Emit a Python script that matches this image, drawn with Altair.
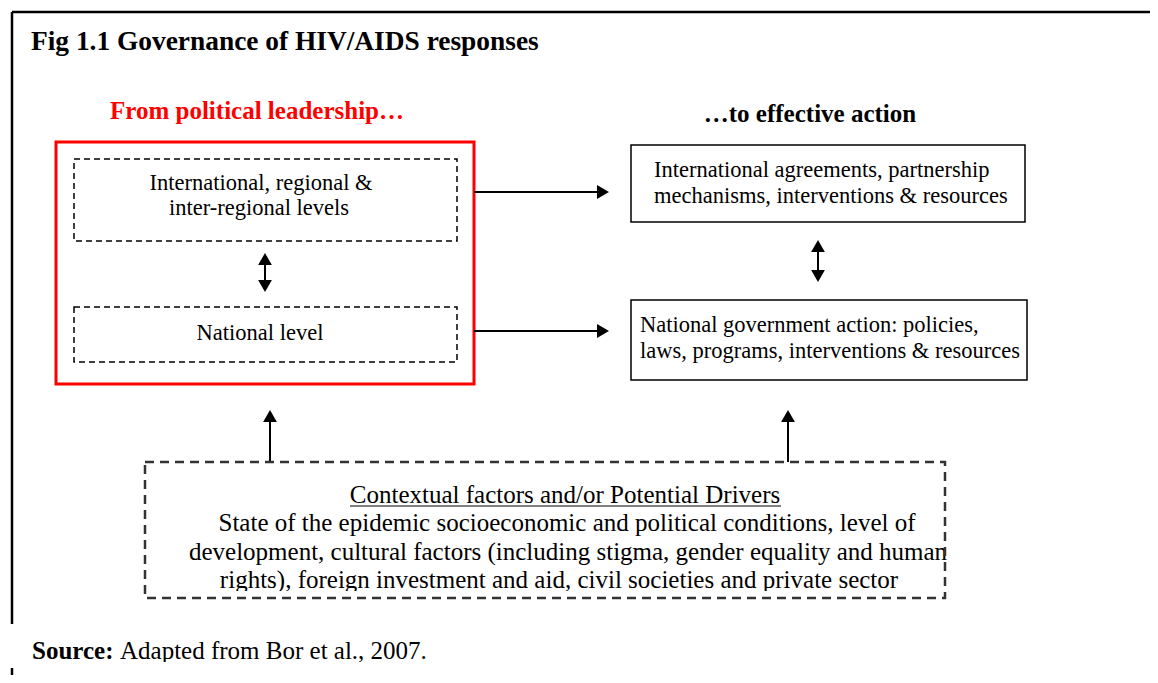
import altair as alt
import pandas as pd

W, H = 1142, 667
SERIF = "Liberation Serif"

# ---------------- data (image pixel coordinates) ----------------
# frame lines: x, x2, y, y2
frame_lines = [
    [12, 1158, 12, 12],
    [12, 12, 12, 624],
    [12, 12, 668, 683],
]

# boxes: x, x2, y, y2
red_box = [[56, 474, 142, 384]]
thin_dashed_boxes = [[74, 457, 159, 241], [74, 457, 307, 362]]
solid_boxes = [[631, 1025, 145, 222], [631, 1027, 300, 380]]
thick_dashed_boxes = [[145, 945, 462, 598]]
# white bands where the original figure's text is cut off
cut_bands = [[150, 940, 591, 596], [28, 600, 662, 672]]

# arrow shafts: x, x2, y, y2
shafts = [
    [474, 598, 192, 192],
    [474, 598, 331, 331],
    [265, 265, 262, 283],
    [818, 818, 249, 273],
    [270, 270, 420, 462],
    [788, 788, 420, 462],
]
# arrow heads: x, y, shape
heads_x = [603, 603, 265, 265, 818, 818, 270, 788]
heads_y = [192, 331, 259, 286, 246, 276, 416, 416]
heads_shape = ["triangle-right", "triangle-right", "triangle-up", "triangle-down",
               "triangle-up", "triangle-down", "triangle-up", "triangle-up"]

# texts
title_text = ["Fig 1.1 Governance of HIV/AIDS responses"]
title_x, title_y = [31], [50]

red_head = ["From political leadership\u2026"]
red_head_x, red_head_y = [257], [119]

black_head = ["\u2026to effective action"]
black_head_x, black_head_y = [810], [122]

center_lines = ["International, regional &", "inter-regional levels", "National level"]
center_x = [261, 259, 260]
center_y = [190, 215, 340]

left_lines = ["International agreements, partnership",
              "mechanisms, interventions & resources",
              "National government action: policies,",
              "laws, programs, interventions & resources"]
left_x = [654, 654, 640, 640]
left_y = [177, 203, 332, 358]

bottom_lines = ["Contextual factors and/or Potential Drivers",
                "State of the epidemic socioeconomic and political conditions, level of",
                "development, cultural factors (including stigma, gender equality and human",
                "rights), foreign investment and aid, civil societies and private sector"]
bottom_x = [565, 567, 568, 559]
bottom_y = [503, 531, 560, 588]
underline = [[350, 781, 506, 506]]

source_bold = ["Source:"]
source_rest = ["Adapted from Bor et al., 2007."]
source_x, source_rest_x, source_y = [32], [120], [659]

# ---------------- scales ----------------
xs = alt.Scale(domain=[8, 8 + W], nice=False, zero=False)
ys = alt.Scale(domain=[8, 8 + H], nice=False, zero=False, reverse=True)


def segs(rows):
    return pd.DataFrame(rows, columns=["x", "x2", "y", "y2"])


def seg_enc(ch):
    return ch.encode(
        x=alt.X("x:Q", scale=xs, axis=None),
        x2="x2:Q",
        y=alt.Y("y:Q", scale=ys, axis=None),
        y2="y2:Q",
    )


def box_layer(rows, **kw):
    return seg_enc(alt.Chart(segs(rows)).mark_rect(fillOpacity=0, **kw))


def text_layer(texts, xv, yv, align, size, color="black", weight="normal"):
    df = pd.DataFrame({"t": texts, "x": xv, "y": yv})
    return alt.Chart(df).mark_text(
        align=align, baseline="alphabetic", font=SERIF, fontSize=size,
        fontWeight=weight, color=color
    ).encode(
        x=alt.X("x:Q", scale=xs, axis=None),
        y=alt.Y("y:Q", scale=ys, axis=None),
        text="t:N",
    )


frame = seg_enc(alt.Chart(segs(frame_lines)).mark_rule(color="black", strokeWidth=2.5))

red = box_layer(red_box, stroke="#ff0000", strokeWidth=3)
thin = box_layer(thin_dashed_boxes, stroke="black", strokeWidth=1.5, strokeDash=[6, 4])
solid = box_layer(solid_boxes, stroke="black", strokeWidth=1.5)
thick = box_layer(thick_dashed_boxes, stroke="#333333", strokeWidth=2.5, strokeDash=[9, 6])
bands = seg_enc(alt.Chart(segs(cut_bands)).mark_rect(color="white", opacity=1))

shaft_layer = seg_enc(alt.Chart(segs(shafts)).mark_rule(color="black", strokeWidth=2))
head_layer = alt.Chart(pd.DataFrame({"x": heads_x, "y": heads_y, "s": heads_shape})).mark_point(
    filled=True, color="black", opacity=1, size=190
).encode(
    x=alt.X("x:Q", scale=xs, axis=None),
    y=alt.Y("y:Q", scale=ys, axis=None),
    shape=alt.Shape("s:N", scale=None),
)
under = seg_enc(alt.Chart(segs(underline)).mark_rule(color="black", strokeWidth=1.2))

layers = [
    frame, red, thin, solid, shaft_layer, head_layer, under,
    text_layer(title_text, title_x, title_y, "left", 27.4, weight="bold"),
    text_layer(red_head, red_head_x, red_head_y, "center", 25, color="#ff0000", weight="bold"),
    text_layer(black_head, black_head_x, black_head_y, "center", 25, weight="bold"),
    text_layer(center_lines, center_x, center_y, "center", 22.5),
    text_layer(left_lines, left_x, left_y, "left", 22.5),
    text_layer(bottom_lines, bottom_x, bottom_y, "center", 25),
    text_layer(source_bold, source_x, source_y, "left", 25, weight="bold"),
    text_layer(source_rest, source_rest_x, source_y, "left", 25),
    bands, thick,
]

chart = alt.layer(*layers).properties(
    width=W, height=H, padding=0, autosize="none"
).configure_view(stroke=None)

chart.save("out.html", embed_options={"renderer": "svg", "actions": False})
